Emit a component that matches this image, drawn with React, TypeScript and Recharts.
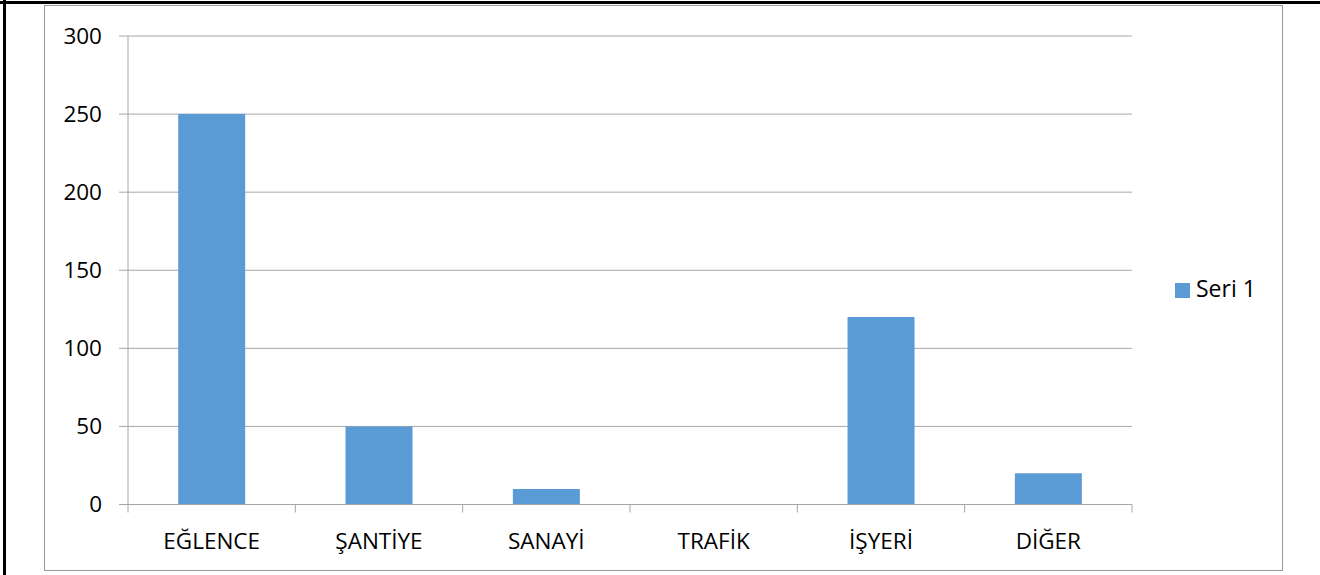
import React from "react";
import { BarChart, Bar, XAxis, YAxis, CartesianGrid } from "recharts";

const categories = ["EĞLENCE", "ŞANTİYE", "SANAYİ", "TRAFİK", "İŞYERİ", "DİĞER"];
const seri1 = [250, 50, 10, 0, 120, 20];
const yTicks = [0, 50, 100, 150, 200, 250, 300];
const seriesName = "Seri 1";

const data = categories.map((c, i) => ({ name: c, v: seri1[i] }));

const W = 1320;
const H = 575;
const PLOT_L = 128;
const PLOT_R = 1132;
const PLOT_T = 36;
const PLOT_B = 504.5;
const BAND = (PLOT_R - PLOT_L) / categories.length;
const FONT = "'Open Sans', sans-serif";
const FS = 22.5;
const GRID = "#a6a6a6";
const BAR = "#5b9bd5";

const XTick = (props: any) => {
  const { x, payload, index } = props;
  const left = x - BAND / 2;
  const right = x + BAND / 2;
  return (
    <g>
      <line x1={left} x2={left} y1={PLOT_B} y2={PLOT_B + 8} stroke={GRID} strokeWidth={1} />
      {index === categories.length - 1 && (
        <line x1={right} x2={right} y1={PLOT_B} y2={PLOT_B + 8} stroke={GRID} strokeWidth={1} />
      )}
      <text x={x} y={PLOT_B + 44} textAnchor="middle" fontSize={FS} fontFamily={FONT} fill="#000">
        {payload.value}
      </text>
    </g>
  );
};

export default function App() {
  return (
    <div style={{ position: "absolute", left: 0, top: 0, width: W, height: H, background: "#fff" }}>
      <div style={{ position: "absolute", left: 0, top: 1, width: W, height: 3, background: "#000" }} />
      <div style={{ position: "absolute", left: 3, top: 0, width: 3, height: H, background: "#000" }} />
      <div
        style={{
          position: "absolute",
          left: 44,
          top: 5,
          width: 1283 - 44,
          height: 571 - 5,
          border: "1px solid #9a9a9a",
          boxSizing: "border-box",
        }}
      />
      <div style={{ position: "absolute", left: 0, top: 0 }}>
        <BarChart
          width={W}
          height={H}
          data={data}
          margin={{ top: PLOT_T, right: W - PLOT_R, bottom: H - PLOT_B - 40, left: PLOT_L - 80 }}
          barCategoryGap="30%"
        >
          <CartesianGrid vertical={false} stroke={GRID} strokeWidth={1} />
          <XAxis
            dataKey="name"
            height={40}
            axisLine={{ stroke: GRID }}
            tickLine={false}
            tick={<XTick />}
            interval={0}
          />
          <YAxis
            width={80}
            domain={[0, 300]}
            ticks={yTicks}
            interval={0}
            axisLine={{ stroke: GRID }}
            tickLine={{ stroke: GRID }}
            tickSize={9}
            tickMargin={17}
            tick={{ fontSize: FS, fontFamily: FONT, fill: "#000" }}
          />
          <Bar dataKey="v" name={seriesName} fill={BAR} isAnimationActive={false} />
        </BarChart>
      </div>
      <div
        style={{
          position: "absolute",
          left: 1175,
          top: 283,
          width: 15,
          height: 15,
          background: BAR,
        }}
      />
      <div
        style={{
          position: "absolute",
          left: 1196,
          top: 273,
          fontSize: 23,
          fontFamily: FONT,
          color: "#000",
          lineHeight: "31px",
          whiteSpace: "nowrap",
        }}
      >
        {seriesName}
      </div>
    </div>
  );
}
